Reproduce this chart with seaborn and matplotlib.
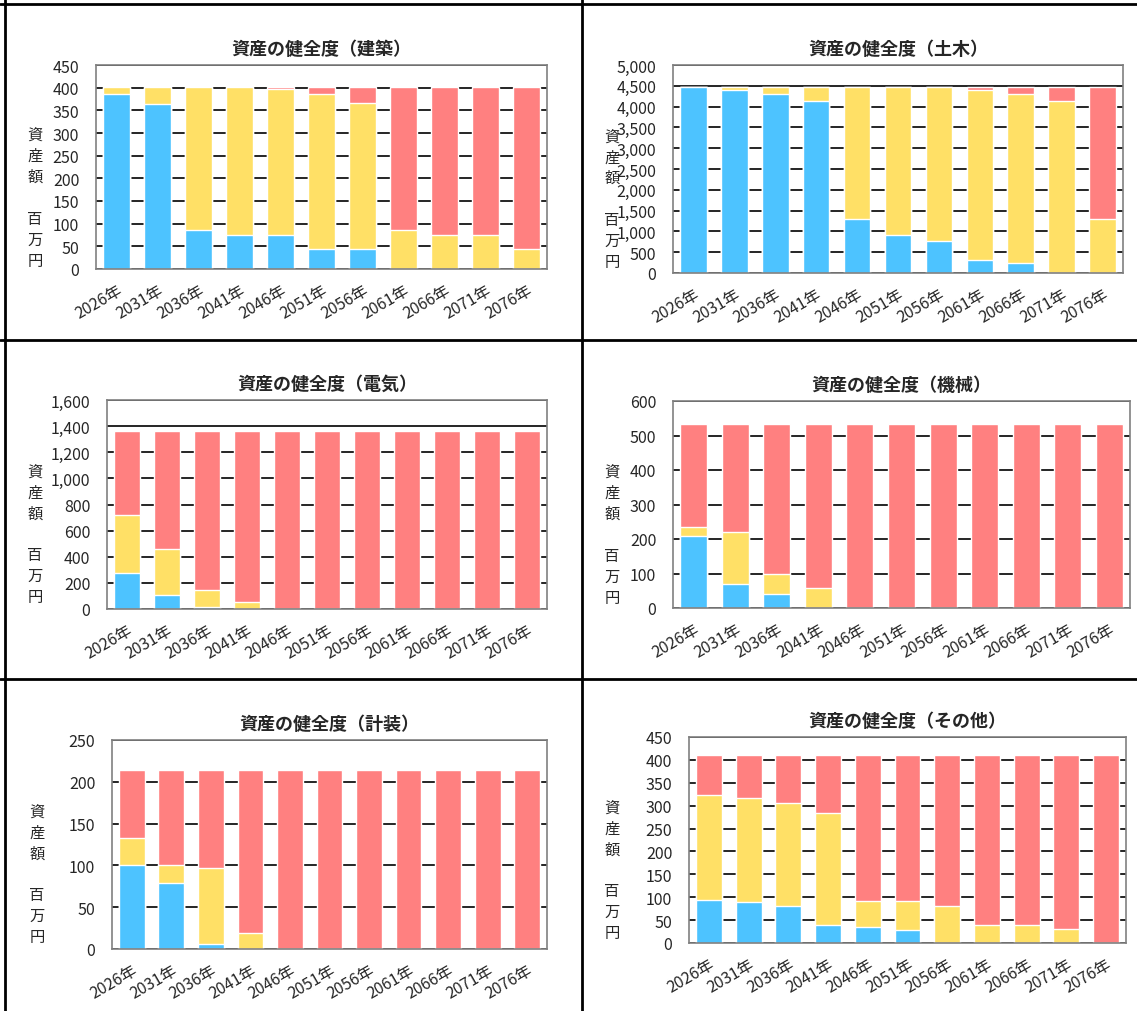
import matplotlib
matplotlib.use('Agg')
import matplotlib.pyplot as plt
import seaborn as sns
import numpy as np
from matplotlib.lines import Line2D
from matplotlib.ticker import FuncFormatter, MultipleLocator

sns.set_style('white')
plt.rcParams['font.family'] = ['Noto Sans CJK JP', 'DejaVu Sans']

years = ['2026年', '2031年', '2036年', '2041年', '2046年', '2051年',
         '2056年', '2061年', '2066年', '2071年', '2076年']

# 建築
kenchiku_blue = [385, 365, 85, 76, 76, 44, 44, 0, 0, 0, 0]
kenchiku_yellow = [17, 37, 317, 326, 320, 342, 322, 85, 76, 76, 44]
kenchiku_red = [0, 0, 0, 0, 6, 16, 36, 317, 326, 326, 358]

# 土木
doboku_blue = [4480, 4390, 4310, 4140, 1290, 920, 770, 320, 230, 0, 0]
doboku_yellow = [0, 90, 170, 340, 3190, 3560, 3710, 4070, 4080, 4140, 1290]
doboku_red = [0, 0, 0, 0, 0, 0, 0, 90, 170, 340, 3190]

# 電気
denki_blue = [275, 105, 15, 0, 0, 0, 0, 0, 0, 0, 0]
denki_yellow = [445, 355, 130, 55, 0, 0, 0, 0, 0, 0, 0]
denki_red = [640, 900, 1215, 1305, 1360, 1360, 1360, 1360, 1360, 1360, 1360]

# 機械
kikai_blue = [208, 70, 42, 0, 0, 0, 0, 0, 0, 0, 0]
kikai_yellow = [27, 150, 57, 58, 0, 0, 0, 0, 0, 0, 0]
kikai_red = [297, 312, 433, 474, 532, 532, 532, 532, 532, 532, 532]

# 計装
keisou_blue = [101, 79, 6, 0, 0, 0, 0, 0, 0, 0, 0]
keisou_yellow = [32, 22, 91, 19, 0, 0, 0, 0, 0, 0, 0]
keisou_red = [81, 113, 117, 195, 214, 214, 214, 214, 214, 214, 214]

# その他
sonota_blue = [95, 90, 80, 40, 34, 29, 0, 0, 0, 0, 0]
sonota_yellow = [229, 227, 225, 245, 57, 62, 80, 40, 40, 30, 0]
sonota_red = [86, 93, 105, 125, 319, 319, 330, 370, 370, 380, 410]

BLUE = '#4DC3FF'
YELLOW = '#FFE066'
RED = '#FF8080'

W, H = 1137, 1012
fig = plt.figure(figsize=(W / 100, H / 100), dpi=100)


def px_axes(left, right, top, bottom):
    return fig.add_axes([left / W, 1 - bottom / H, (right - left) / W, (bottom - top) / H])


panels = [
    ('資産の健全度（建築）', kenchiku_blue, kenchiku_yellow, kenchiku_red, 450, 50, False, (96, 547, 66, 270)),
    ('資産の健全度（土木）', doboku_blue, doboku_yellow, doboku_red, 5000, 500, True, (673, 1123, 66, 274)),
    ('資産の健全度（電気）', denki_blue, denki_yellow, denki_red, 1600, 200, True, (107, 547, 401, 610)),
    ('資産の健全度（機械）', kikai_blue, kikai_yellow, kikai_red, 600, 100, False, (673, 1130, 402, 609)),
    ('資産の健全度（計装）', keisou_blue, keisou_yellow, keisou_red, 250, 50, False, (112, 547, 741, 950)),
    ('資産の健全度（その他）', sonota_blue, sonota_yellow, sonota_red, 450, 50, False, (689, 1126, 738, 944)),
]

ylabel_x = [35, 612, 35, 612, 37, 612]

for i, (title, blue, yellow, red, ymax, step, comma, box) in enumerate(panels):
    ax = px_axes(*box)
    blue = np.array(blue)
    yellow = np.array(yellow)
    red = np.array(red)
    total = blue + yellow + red
    # stacked by overdrawing cumulative heights
    for vals, col in [(total, RED), (blue + yellow, YELLOW), (blue, BLUE)]:
        sns.barplot(x=years, y=vals, color=col, saturation=1, width=0.65,
                    edgecolor='white', linewidth=1, errorbar=None, ax=ax)
    ax.set_ylim(0, ymax)
    ax.set_xlim(-0.5, len(years) - 0.5)
    ax.yaxis.set_major_locator(MultipleLocator(step))
    if comma:
        ax.yaxis.set_major_formatter(FuncFormatter(lambda v, p: f'{int(v):,}'))
    ax.set_axisbelow(True)
    ax.yaxis.grid(True, color='black', linewidth=1.2)
    ax.xaxis.grid(False)
    for s in ax.spines.values():
        s.set_color('#808080')
        s.set_linewidth(1.2)
    ax.tick_params(axis='y', length=0, pad=12, labelsize=11.5)
    ax.set_xticks(np.arange(len(years)))
    ax.set_xticks(np.arange(len(years) + 1) - 0.5, minor=True)
    ax.tick_params(axis='x', which='major', length=0, pad=9)
    ax.tick_params(axis='x', which='minor', length=4, color='#808080', direction='out')
    ax.set_xticklabels(years, rotation=30, ha='right', va='top',
                       rotation_mode='anchor', fontsize=11.5)
    ax.set_xlabel('')
    ax.set_ylabel('')
    ax.set_title(title, fontsize=13, fontweight='bold', pad=8)

    # vertical y label
    top_px = box[2] + (box[3] - box[2]) * 0.30
    fig.text(ylabel_x[i] / W, 1 - top_px / H, '資\n産\n額\n\n百\n万\n円',
             ha='center', va='top', fontsize=11, linespacing=1.3)

# panel borders
lines = [((5, 5), (0, H)), ((0, W), (5, 5)), ((582, 582), (0, H)),
         ((0, W), (341, 341)), ((0, W), (680, 680))]
for xs, ys in lines:
    fig.add_artist(Line2D([x / W for x in xs], [1 - y / H for y in ys],
                          color='black', linewidth=2))

fig.savefig('out.png', dpi=100)
